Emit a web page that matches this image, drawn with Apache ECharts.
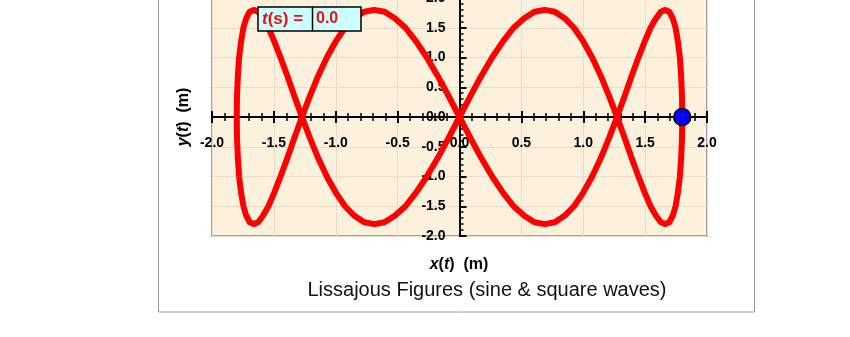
<!DOCTYPE html>
<html>
<head>
<meta charset="utf-8">
<script src="https://cdn.jsdelivr.net/npm/echarts@6/dist/echarts.min.js"></script>
<style>
html,body{margin:0;padding:0;background:#fff;}
#chart{width:850px;height:337px;}
</style>
</head>
<body>
<div id="chart"></div>
<script>
// ---- data ----
var curveX = [
  1.800,1.798,1.791,1.781,1.765,1.746,1.723,1.695,1.663,1.627,1.588,1.544,1.497,1.446,1.391,1.334,
  1.273,1.209,1.142,1.072,1.000,0.925,0.849,0.770,0.689,0.606,0.523,0.437,0.351,0.264,0.176,0.088,0.000,
  -0.088,-0.176,-0.264,-0.351,-0.437,-0.523,-0.606,-0.689,-0.770,-0.849,-0.925,-1.000,-1.072,-1.142,-1.209,
  -1.273,-1.334,-1.391,-1.446,-1.497,-1.544,-1.588,-1.627,-1.663,-1.695,-1.723,-1.746,-1.765,-1.781,-1.791,-1.798,-1.800,
  -1.798,-1.791,-1.781,-1.765,-1.746,-1.723,-1.695,-1.663,-1.627,-1.588,-1.544,-1.497,-1.446,-1.391,-1.334,-1.273,
  -1.209,-1.142,-1.072,-1.000,-0.925,-0.849,-0.770,-0.689,-0.606,-0.523,-0.437,-0.351,-0.264,-0.176,-0.088,0.000,
  0.088,0.176,0.264,0.351,0.437,0.523,0.606,0.689,0.770,0.849,0.925,1.000,1.072,1.142,1.209,1.273,
  1.334,1.391,1.446,1.497,1.544,1.588,1.627,1.663,1.695,1.723,1.746,1.765,1.781,1.791,1.798,1.800];
var curveY = [
  0,0.35,0.69,1.00,1.27,1.50,1.66,1.77,1.80,1.77,1.66,1.50,1.27,1.00,0.69,0.35,
  0,-0.35,-0.69,-1.00,-1.27,-1.50,-1.66,-1.77,-1.80,-1.77,-1.66,-1.50,-1.27,-1.00,-0.69,-0.35,
  0,0.35,0.69,1.00,1.27,1.50,1.66,1.77,1.80,1.77,1.66,1.50,1.27,1.00,0.69,0.35,
  0,-0.35,-0.69,-1.00,-1.27,-1.50,-1.66,-1.77,-1.80,-1.77,-1.66,-1.50,-1.27,-1.00,-0.69,-0.35,
  0,0.35,0.69,1.00,1.27,1.50,1.66,1.77,1.80,1.77,1.66,1.50,1.27,1.00,0.69,0.35,
  0,-0.35,-0.69,-1.00,-1.27,-1.50,-1.66,-1.77,-1.80,-1.77,-1.66,-1.50,-1.27,-1.00,-0.69,-0.35,
  0,0.35,0.69,1.00,1.27,1.50,1.66,1.77,1.80,1.77,1.66,1.50,1.27,1.00,0.69,0.35,
  0,-0.35,-0.69,-1.00,-1.27,-1.50,-1.66,-1.77,-1.80,-1.77,-1.66,-1.50,-1.27,-1.00,-0.69,-0.35,
  0];
var pointX = [1.80];
var pointY = [0.00];
var axisMin = -2.0, axisMax = 2.0, axisStep = 0.5;
var timeLabel = "0.0";
var chartTitle = "Lissajous Figures (sine & square waves)";

// ---- build ----
var curve = curveX.map(function (x, i) { return [x, curveY[i]]; });
var point = pointX.map(function (x, i) { return [x, pointY[i]]; });
var FONT = "'Liberation Sans', Arial, sans-serif";
var fmt = function (v) { return v.toFixed(1); };

var G = { left: 212, width: 495, top: -2, height: 238 };
var xOff = -G.height / 2;   // x axis drawn through the middle (y = 0)
var yOff = -G.width / 2;    // y axis drawn through the middle (x = 0)

var chart = echarts.init(document.getElementById('chart'), null, { renderer: 'canvas' });
chart.setOption({
  animation: false,
  backgroundColor: '#ffffff',
  grid: [{ left: G.left, width: G.width, top: G.top, height: G.height, show: true,
           outerBoundsMode: 'none', containLabel: false,
           backgroundColor: '#FBF1DD', borderColor: '#A3A3A3', borderWidth: 2 }],
  xAxis: [
    {
      type: 'value', min: axisMin, max: axisMax, interval: axisStep, position: 'bottom', offset: xOff,
      axisLine: { show: true, onZero: false, lineStyle: { color: '#000', width: 2 } },
      axisTick: { show: true, inside: false, length: 6, lineStyle: { color: '#000', width: 2 } },
      minorTick: { show: true, splitNumber: 5, length: 4, lineStyle: { color: '#000', width: 1.5 } },
      axisLabel: { show: true, margin: 19, formatter: fmt, color: '#000', fontWeight: 'bold', fontSize: 14, fontFamily: FONT, showMinLabel: true, showMaxLabel: true },
      splitLine: { show: true, lineStyle: { color: '#E8DDC8', width: 1 } }
    },
    {
      type: 'value', min: axisMin, max: axisMax, interval: axisStep, position: 'bottom', offset: xOff,
      axisLine: { show: false, onZero: false },
      axisTick: { show: true, inside: true, length: 6, lineStyle: { color: '#000', width: 2 } },
      minorTick: { show: true, splitNumber: 5, length: 4, lineStyle: { color: '#000', width: 1.5 } },
      axisLabel: { show: false },
      splitLine: { show: false }
    }
  ],
  yAxis: [
    {
      type: 'value', min: axisMin, max: axisMax, interval: axisStep, position: 'left', offset: yOff,
      axisLine: { show: true, onZero: false, lineStyle: { color: '#000', width: 2 } },
      axisTick: { show: true, inside: true, length: 7, lineStyle: { color: '#000', width: 2 } },
      minorTick: { show: true, splitNumber: 5, length: 4, lineStyle: { color: '#000', width: 1.5 } },
      axisLabel: { show: true, margin: 14, formatter: fmt, color: '#000', fontWeight: 'bold', fontSize: 14, fontFamily: FONT, showMinLabel: true, showMaxLabel: true },
      splitLine: { show: true, lineStyle: { color: '#E8DDC8', width: 1 } }
    }
  ],
  series: [
    {
      type: 'line', xAxisIndex: 0, yAxisIndex: 0, data: curve,
      showSymbol: false, smooth: false, z: 5,
      lineStyle: { color: '#FF0000', width: 6, cap: 'round', join: 'round' }
    },
    {
      type: 'scatter', xAxisIndex: 0, yAxisIndex: 0, data: point,
      symbol: 'circle', symbolSize: 17, z: 10,
      itemStyle: { color: '#0000FF', borderColor: '#000', borderWidth: 1.5, opacity: 1 }
    }
  ],
  graphic: [
    { type: 'rect', z: 0, silent: true, shape: { x: 158.5, y: -10, width: 596, height: 322 }, style: { fill: 'none', stroke: '#9A9A9A', lineWidth: 1 } },
    { type: 'rect', z: 100, shape: { x: 258, y: 7, width: 103, height: 24 }, style: { fill: '#CCFFFF', stroke: '#000', lineWidth: 1.5 } },
    { type: 'line', z: 101, shape: { x1: 312.5, y1: 7, x2: 312.5, y2: 31 }, style: { stroke: '#000', lineWidth: 1.5 } },
    { type: 'text', z: 102, x: 262, y: 19, style: {
        text: '{i|t}{b|(s) =}', verticalAlign: 'middle', align: 'left',
        rich: {
          i: { fontStyle: 'italic', fontWeight: 'bold', fontSize: 17, fill: '#F01010', fontFamily: FONT },
          b: { fontWeight: 'bold', fontSize: 17, fill: '#F01010', fontFamily: FONT }
        } } },
    { type: 'text', z: 102, x: 316, y: 19, style: { text: timeLabel, verticalAlign: 'middle', align: 'left', fontWeight: 'bold', fontSize: 16, fill: '#F01010', fontFamily: FONT } },
    { type: 'text', x: 459, y: 265, style: {
        text: '{i|x}{b|(}{i|t}{b|)  (m)}', align: 'center', verticalAlign: 'middle',
        rich: {
          i: { fontStyle: 'italic', fontWeight: 'bold', fontSize: 16, fill: '#000', fontFamily: FONT },
          b: { fontWeight: 'bold', fontSize: 16, fill: '#000', fontFamily: FONT }
        } } },
    { type: 'text', x: 184, y: 117, rotation: Math.PI / 2, style: {
        text: '{i|y}{b|(}{i|t}{b|)  (m)}', align: 'center', verticalAlign: 'middle',
        rich: {
          i: { fontStyle: 'italic', fontWeight: 'bold', fontSize: 16, fill: '#000', fontFamily: FONT },
          b: { fontWeight: 'bold', fontSize: 16, fill: '#000', fontFamily: FONT }
        } } },
    { type: 'text', x: 487, y: 290, style: { text: chartTitle, align: 'center', verticalAlign: 'middle', fontSize: 20, fill: '#111', fontFamily: FONT } }
  ]
});
</script>
</body>
</html>
